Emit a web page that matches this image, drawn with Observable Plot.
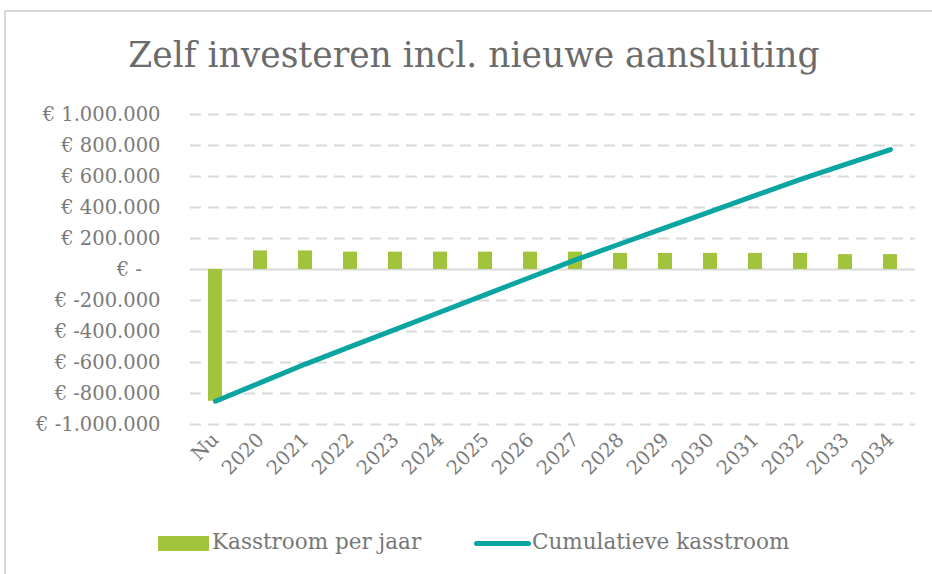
<!DOCTYPE html>
<html>
<head>
<meta charset="utf-8">
<script src="https://cdn.jsdelivr.net/npm/d3@7"></script>
<script src="https://cdn.jsdelivr.net/npm/@observablehq/plot@0.6"></script>
<style>
  html, body { margin: 0; padding: 0; background: #fff; }
  body { width: 932px; height: 574px; position: relative; overflow: hidden; font-family: "DejaVu Serif", serif; }
  #frame { position: absolute; left: 4px; top: 10px; width: 960px; height: 570px; border: 2px solid #d9d9d9; box-sizing: border-box; z-index: 5; pointer-events: none; background: transparent; }
  #title { position: absolute; left: 0; top: 35px; width: 948px; text-align: center; font-size: 34.5px; color: #6b6b6b; white-space: nowrap; }
  #chart { position: absolute; left: 0; top: 90px; }
  #legend { position: absolute; top: 529px; left: 0; width: 932px; height: 28px; font-size: 21.5px; color: #777; }
  .sw { position: absolute; }
  .lt { position: absolute; top: 0; white-space: nowrap; }
</style>
</head>
<body>
<div id="frame"></div>
<div id="title">Zelf investeren incl. nieuwe aansluiting</div>
<div id="chart"></div>
<div id="legend">
  <div class="sw" style="left:158px; top:7px; width:51px; height:15px; background:#a2c43c;"></div>
  <div class="lt" style="left:212px;">Kasstroom per jaar</div>
  <div class="sw" style="left:474px; top:12px; width:57px; height:5px; border-radius:3px; background:#0aa5a0;"></div>
  <div class="lt" style="left:532px;">Cumulatieve kasstroom</div>
</div>
<script>
const categories = ["Nu","2020","2021","2022","2023","2024","2025","2026","2027","2028","2029","2030","2031","2032","2033","2034"];
const kasstroomPerJaar = [-850000, 120000, 120000, 112000, 112000, 112000, 112000, 112000, 112000, 104000, 104000, 104000, 104000, 104000, 96000, 96000];
const cumulatieveKasstroom = [-850000, -730000, -610000, -498000, -386000, -274000, -162000, -50000, 62000, 166000, 270000, 374000, 478000, 582000, 678000, 774000];
const yTicks = [-1000000, -800000, -600000, -400000, -200000, 0, 200000, 400000, 600000, 800000, 1000000];
const yTickLabels = ["€ -1.000.000", "€ -800.000", "€ -600.000", "€ -400.000", "€ -200.000", "€ -\u00a0\u00a0\u00a0", "€ 200.000", "€ 400.000", "€ 600.000", "€ 800.000", "€ 1.000.000"];

const rows = categories.map((c, i) => ({cat: c, flow: kasstroomPerJaar[i], cum: cumulatieveKasstroom[i]}));
const labelOf = new Map(yTicks.map((t, i) => [t, yTickLabels[i]]));

const chart = Plot.plot({
  width: 932,
  height: 430,
  marginTop: 24,
  marginBottom: 96,
  marginLeft: 190,
  marginRight: 17,
  style: {fontFamily: "DejaVu Serif, serif", fontSize: "19.5px", color: "#7a7a7a", background: "transparent", overflow: "visible"},
  x: {domain: categories, paddingInner: 0.7, paddingOuter: 0.35, tickSize: 0, tickRotate: -45, tickPadding: 12, label: null},
  y: {domain: [-1000000, 1000000], ticks: yTicks, tickFormat: d => labelOf.get(d), tickSize: 0, tickPadding: 30, label: null},
  marks: [
    Plot.ruleY(yTicks.filter(d => d !== 0), {stroke: "#d9d9d9", strokeWidth: 2, strokeDasharray: "11,7"}),
    Plot.ruleY([0], {stroke: "#d9d9d9", strokeWidth: 2}),
    Plot.barY(rows, {x: "cat", y: "flow", fill: "#a2c43c"}),
    Plot.line(rows, {x: "cat", y: "cum", stroke: "#0aa5a0", strokeWidth: 5, strokeLinecap: "round"})
  ]
});
document.getElementById("chart").appendChild(chart);
</script>
</body>
</html>
